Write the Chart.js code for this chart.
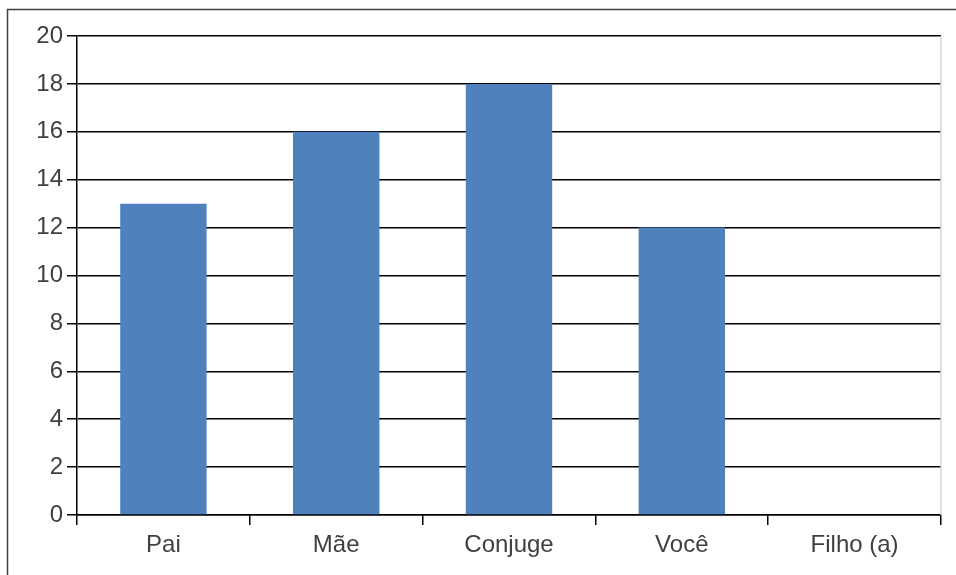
<!DOCTYPE html>
<html>
<head>
<meta charset="utf-8">
<script src="https://cdn.jsdelivr.net/npm/chart.js@4"></script>
<style>
  html, body { margin: 0; padding: 0; background: #fff; }
  #wrap { position: relative; width: 956px; height: 575px; }
</style>
</head>
<body>
<div id="wrap"><canvas id="chart" width="956" height="575"></canvas></div>
<script>
const categorias = ["Pai", "Mãe", "Conjuge", "Você", "Filho (a)"];
const valores = [13, 16, 18, 12, 0];
const yMin = 0, yMax = 20, yStep = 2;

// moldura externa (topo e esquerda) + borda direita do plot
const moldura = {
  id: "moldura",
  afterDraw(chart) {
    const { ctx, chartArea: a } = chart;
    ctx.save();
    ctx.strokeStyle = "#404040";
    ctx.lineWidth = 1.5;
    ctx.beginPath();
    ctx.moveTo(7.5, 575);
    ctx.lineTo(7.5, 9.5);
    ctx.lineTo(956, 9.5);
    ctx.stroke();
    ctx.strokeStyle = "#d4d4d4";
    ctx.beginPath();
    ctx.moveTo(a.right, a.top);
    ctx.lineTo(a.right, a.bottom);
    ctx.stroke();
    ctx.restore();
  }
};

const fonte = { family: "Liberation Sans, Arial, sans-serif", size: 24 };

new Chart(document.getElementById("chart"), {
  type: "bar",
  data: {
    labels: categorias,
    datasets: [{
      data: valores,
      backgroundColor: "#4f81bd",
      borderWidth: 0,
      barPercentage: 0.5,
      categoryPercentage: 1.0,
    }],
  },
  options: {
    responsive: false,
    animation: false,
    layout: { padding: { left: 0, top: 36, right: 15, bottom: 0 } },
    plugins: { legend: { display: false }, tooltip: { enabled: false } },
    scales: {
      x: {
        offset: true,
        grid: { offset: true, drawOnChartArea: false, drawTicks: true, tickLength: 10, color: "#000", lineWidth: 1.5 },
        border: { color: "#000", width: 1.5 },
        ticks: { color: "#404040", font: fonte, padding: 6 },
        afterFit: s => { s.height = 60; },
      },
      y: {
        min: yMin, max: yMax,
        ticks: { stepSize: yStep, color: "#404040", font: fonte, padding: 4 },
        grid: { color: "#000", lineWidth: 1.5, tickLength: 10 },
        border: { color: "#000", width: 1.5 },
        afterFit: s => { s.width = 77; },
      },
    },
  },
  plugins: [moldura],
});
</script>
</body>
</html>
